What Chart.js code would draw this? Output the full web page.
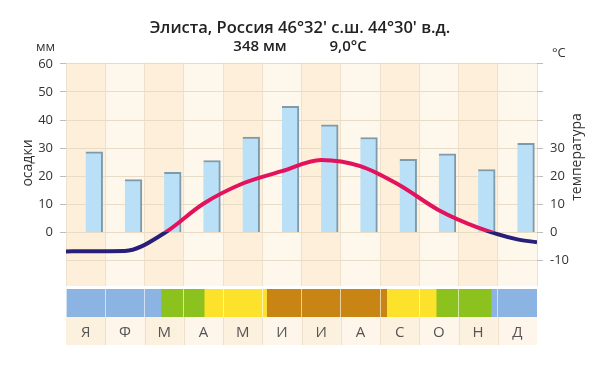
<!DOCTYPE html>
<html>
<head>
<meta charset="utf-8">
<script src="https://cdn.jsdelivr.net/npm/chart.js@4.4.0/dist/chart.umd.min.js"></script>
<style>
  body { margin: 0; background: #fff; font-family: "Open Sans", sans-serif; }
  #wrap { position: relative; width: 600px; height: 366px; }
  canvas { position: absolute; left: 0; }
  .txt { position: absolute; color: #333; font-size: 13px; line-height: 16px; white-space: nowrap; }
  .rot { transform: translate(-50%, -50%) rotate(-90deg); font-size: 14px; }
</style>
</head>
<body>
<div id="wrap">
  <canvas id="main" width="600" height="286" style="top:0"></canvas>
  <canvas id="strip" width="600" height="56" style="top:289px"></canvas>
  <span class="txt" style="left:36px;top:38px">мм</span>
  <span class="txt" style="left:552px;top:44px">°C</span>
  <span class="txt rot" style="left:27px;top:163px">осадки</span>
  <span class="txt rot" style="left:576px;top:157px">температура</span>
</div>
<script>
'use strict';

const months = ['Я', 'Ф', 'М', 'А', 'М', 'И', 'И', 'А', 'С', 'О', 'Н', 'Д'];
// осадки, мм
const precip = [28.7, 18.8, 21.4, 25.6, 33.9, 44.9, 38.3, 33.8, 26, 28, 22.4, 31.7];
// температура, °C (середина месяца)
const temp = [-6.7, -6.6, -0.3, 10.2, 17.4, 21.8, 25.8, 23.6, 16.8, 7.9, 1.7, -2.5];
// температура на краях графика (начало января, конец декабря)
const tempEdges = [-6.8, -3.5];
// границы сезонов в месяцах
const seasonBreaks = [0, 2.42, 3.52, 5.11, 8.17, 9.43, 10.83, 12];
const seasonColors = ['#8cb4e2', '#8cc21e', '#fde22b', '#c88514', '#fde22b', '#8cc21e', '#8cb4e2'];

const yMin = -19.1, yMax = 60.4;
const RED = '#e2125c', NAVY = '#2a1f78';

const tempPoints = [{ x: 0, y: tempEdges[0] }]
    .concat(temp.map((t, i) => ({ x: i + 0.5, y: t })))
    .concat([{ x: 12, y: tempEdges[1] }]);


// фон колонок
const columnsBg = {
    id: 'columnsBg',
    beforeDraw(chart) {
        const { ctx, chartArea: a } = chart;
        const w = (a.right - a.left) / months.length;
        ctx.save();
        months.forEach((m, i) => {
            ctx.fillStyle = i % 2 ? '#fef7eb' : '#fdefd9';
            ctx.fillRect(a.left + i * w, a.top, w, a.bottom - a.top);
        });
        ctx.restore();
    }
};

// строка с буквами месяцев под полосой сезонов
const labelRow = {
    id: 'labelRow',
    beforeDraw(chart) {
        const { ctx, chartArea: a } = chart;
        const w = (a.right - a.left) / months.length;
        const top = a.bottom, h = 30;
        ctx.save();
        months.forEach((m, i) => {
            ctx.fillStyle = i % 2 ? '#fef6ea' : '#fcf0de';
            ctx.fillRect(a.left + i * w, top, w, h);
        });
        ctx.strokeStyle = '#eee0ca';
        ctx.lineWidth = 1;
        for (let i = 1; i < months.length; i++) {
            const x = Math.round(a.left + i * w) + 0.5;
            ctx.beginPath(); ctx.moveTo(x, top); ctx.lineTo(x, top + h); ctx.stroke();
        }
        ctx.strokeStyle = '#cfcfcf';
        ctx.beginPath(); ctx.moveTo(a.left, top + h + 0.5); ctx.lineTo(a.right, top + h + 0.5); ctx.stroke();
        ctx.restore();
    }
};

// красная выше нуля, синяя ниже
function tempColor(context) {
    const chart = context.chart;
    const a = chart.chartArea;
    if (!a) return RED;
    const y0 = chart.scales.yT.getPixelForValue(0);
    const f = Math.min(1, Math.max(0, (y0 - a.top) / (a.bottom - a.top)));
    const g = chart.ctx.createLinearGradient(0, a.top, 0, a.bottom);
    g.addColorStop(0, RED);
    g.addColorStop(f, RED);
    g.addColorStop(f, NAVY);
    g.addColorStop(1, NAVY);
    return g;
}

const tens = s => { s.ticks = s.ticks.filter(t => t.value % 10 === 0); };
const noPad = s => { s.paddingTop = 0; s.paddingBottom = 0; s.paddingLeft = 0; s.paddingRight = 0; };

new Chart(document.getElementById('main'), {
    type: 'bar',
    data: {
        labels: months,
        datasets: [
            {
                type: 'line',
                label: 'температура',
                data: tempPoints,
                xAxisID: 'x2',
                yAxisID: 'yT',
                borderColor: tempColor,
                borderWidth: 4,
                pointRadius: 0,
                cubicInterpolationMode: 'monotone',
                order: 1
            },
            {
                type: 'bar',
                label: 'осадки',
                data: precip,
                xAxisID: 'x',
                yAxisID: 'y',
                backgroundColor: '#b9e0f6',
                borderColor: '#7f9bab',
                borderWidth: { top: 2, right: 2, left: 0, bottom: 0 },
                borderSkipped: 'bottom',
                barThickness: 17,
                order: 2
            }
        ]
    },
    options: {
        responsive: false,
        animation: false,
        layout: { padding: 0 },
        plugins: {
            legend: { display: false },
            tooltip: { enabled: false },
            title: {
                display: true,
                text: 'Элиста, Россия 46°32\' с.ш. 44°30\' в.д.',
                color: '#222',
                font: { family: 'Open Sans', size: 16.5, weight: '600' },
                padding: { top: 18, bottom: 0 }
            },
            subtitle: {
                display: true,
                text: '348 мм           9,0°C',
                color: '#222',
                font: { family: 'Open Sans', size: 15, weight: '600' },
                padding: { top: 0, bottom: 7 }
            }
        },
        scales: {
            x: {
                type: 'category',
                offset: true,
                grid: { offset: true, color: '#efe2cd', drawTicks: false },
                ticks: { display: false },
                border: { display: false },
                afterFit: s => { noPad(s); s.height = 0; }
            },
            x2: { type: 'linear', min: 0, max: 12, offset: false, display: false },
            y: {
                position: 'left',
                min: yMin,
                max: yMax,
                afterFit: s => { noPad(s); s.width = 66; },
                afterBuildTicks: tens,
                ticks: {
                    stepSize: 10,
                    includeBounds: false,
                    color: '#333',
                    padding: 7,
                    font: { family: 'Open Sans', size: 13 },
                    callback: v => (v >= 0 ? v : '')
                },
                grid: {
                    color: '#e8dcc7',
                    tickLength: 6,
                    tickColor: ctx => (ctx.tick && ctx.tick.value < 0 ? 'rgba(0,0,0,0)' : '#bdbdbd')
                },
                border: { display: false }
            },
            yT: {
                position: 'right',
                min: yMin,
                max: yMax,
                afterFit: s => { noPad(s); s.width = 63; },
                afterBuildTicks: tens,
                ticks: {
                    stepSize: 10,
                    includeBounds: false,
                    color: '#333',
                    padding: 7,
                    font: { family: 'Open Sans', size: 13 },
                    callback: v => (v <= 30 ? v : '')
                },
                grid: { drawOnChartArea: false, tickLength: 6, tickColor: '#bdbdbd' },
                border: { display: false }
            }
        }
    },
    plugins: [columnsBg]
});

new Chart(document.getElementById('strip'), {
    type: 'bar',
    data: {
        labels: ['сезоны'],
        datasets: seasonColors.map((c, i) => ({
            data: [[seasonBreaks[i], seasonBreaks[i + 1]]],
            backgroundColor: c,
            barPercentage: 1,
            categoryPercentage: 1,
            grouped: false
        }))
    },
    options: {
        indexAxis: 'y',
        responsive: false,
        animation: false,
        layout: { padding: { left: 66, right: 63, top: 0, bottom: 0 } },
        plugins: { legend: { display: false }, tooltip: { enabled: false } },
        scales: {
            x: { type: 'linear', min: 0, max: 12, display: false },
            y: { display: false },
            xm: {
                type: 'category',
                labels: months,
                position: 'bottom',
                offset: true,
                grid: { offset: true, z: 1, color: 'rgba(255,255,255,0.6)', drawTicks: false },
                border: { display: false },
                ticks: { color: '#555', padding: 7, font: { family: 'Open Sans', size: 15 } }
            }
        }
    },
    plugins: [labelRow]
});
</script>
</body>
</html>
